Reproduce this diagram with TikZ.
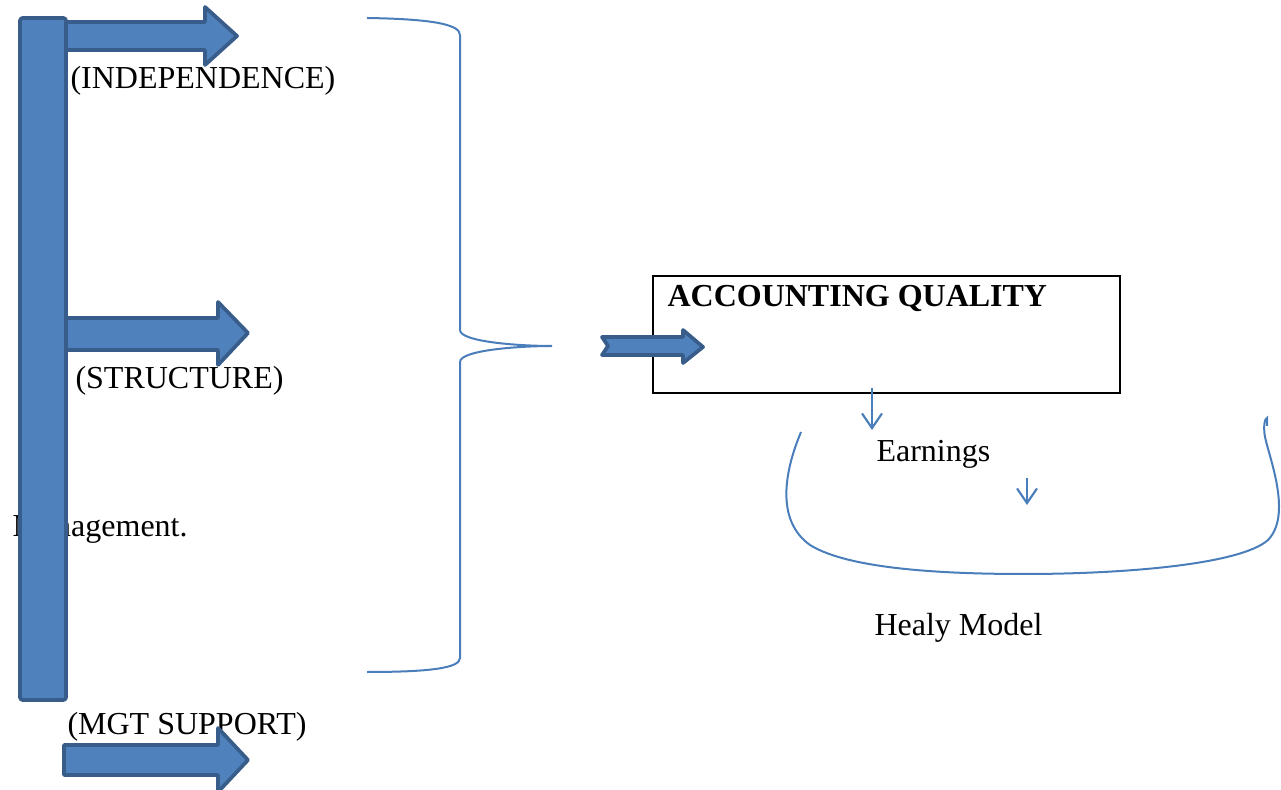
\documentclass[tikz,border=0pt]{standalone}
\usepackage{fontspec}
\setmainfont{Liberation Serif}
\usetikzlibrary{arrows.meta}
\definecolor{blockfill}{HTML}{4F81BD}
\definecolor{blockline}{HTML}{385D8A}
\definecolor{thinline}{HTML}{4A7EBB}
\tikzset{
  label/.style={inner sep=0pt, anchor=west, font=\fontsize{12}{14}\selectfont},
  blockshape/.style={fill=blockfill, draw=blockline, line width=1.4pt, line join=round},
  bracket/.style={draw=thinline, line width=0.75pt},
  thinarrow/.style={draw=thinline, line width=0.8pt, -{Straight Barb[length=5.5pt,width=7.5pt]}},
}
\begin{document}
\begin{tikzpicture}[x=0.375pt,y=-0.375pt]
\useasboundingbox (0,0) rectangle (1281,790);

% labels along the left column
\node[label] (indep) at (70,81) {(INDEPENDENCE)};
\node[label] (struct) at (75,381) {(STRUCTURE)};
\node[label] (mgmt) at (12,529) {Management.};
\node[label] (mgt) at (67,727) {(MGT SUPPORT)};

% block arrows branching off the bar
\path[blockshape] (60,22) -- (205,22) -- (205,7) -- (237,36) -- (205,65) -- (205,50) -- (60,50) -- cycle;
\path[blockshape] (60,318) -- (218,318) -- (218,302) -- (248,333) -- (218,365) -- (218,350) -- (60,350) -- cycle;
\path[blockshape] (64,745) -- (218,745) -- (218,728) -- (248,760) -- (218,792) -- (218,775) -- (64,775) -- cycle;

% vertical bar
\path[blockshape, rounded corners=1pt] (20,18) rectangle (66,700);

% curly bracket
\coordinate (brtip) at (552,346);
\draw[bracket] (367,18) .. controls (430,19) and (460,24) .. (460,35) -- (460,330)
  .. controls (460,342) and (520,346) .. (brtip)
  .. controls (520,346) and (460,350) .. (460,362) -- (460,658)
  .. controls (460,668) and (430,672) .. (367,672);

% accounting quality box
\node[draw=black, line width=0.8pt, minimum width=467*0.375pt, minimum height=117*0.375pt, inner sep=0pt, anchor=north west] (aq) at (652,275) {};
\node[label, font=\fontsize{12}{14}\selectfont\bfseries] (aqtext) at (667,299) {ACCOUNTING QUALITY};

% notched arrow into the box
\path[blockshape] (602,337) -- (683,337) -- (683,330) -- (703,347) -- (683,363) -- (683,355) -- (602,355) -- (608,346) -- cycle;

% earnings and model
\node[label] (earn) at (876,454) {Earnings};
\node[label] (healy) at (874,628) {Healy Model};

\coordinate (a1s) at (872,388);
\coordinate (a1e) at (872,430);
\draw[thinarrow] (a1s) -- (a1e);
\coordinate (a2s) at (1027,478);
\coordinate (a2e) at (1027,505);
\draw[thinarrow] (a2s) -- (a2e);

% bowl-shaped bracket
\draw[bracket] (801,432) .. controls (785,470) and (775,520) .. (810,545)
  .. controls (850,570) and (950,574) .. (1025,574)
  .. controls (1120,574) and (1240,565) .. (1268,540)
  .. controls (1292,515) and (1270,460) .. (1265,437)
  .. controls (1263,426) and (1265,418) .. (1267,418) -- (1267,426);
\end{tikzpicture}
\end{document}
